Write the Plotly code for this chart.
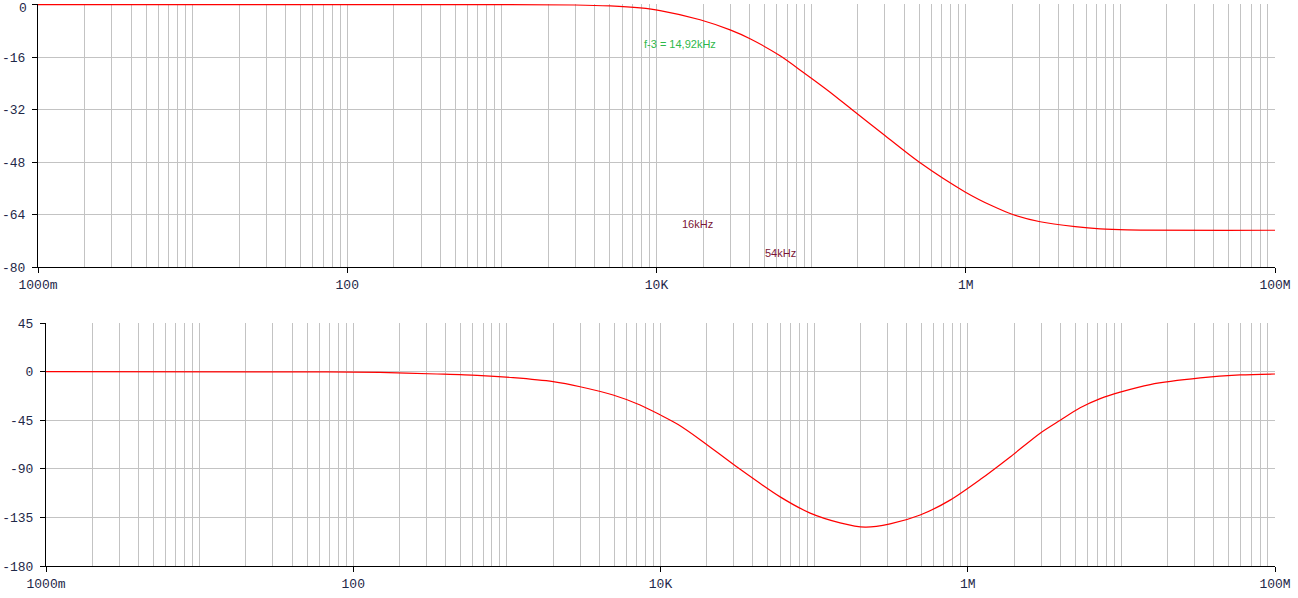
import plotly.graph_objects as go

# ---- data ----
mag_freq = [1, 1000, 2970, 5010, 7830, 10550, 19140, 29920, 40270, 63000, 88740,
            132700, 183400, 301500, 499000, 990000, 1503000, 2015000, 3030000,
            5100000, 7400000, 11070000, 100000000]
mag_db = [0, 0, -0.1, -0.4, -1.0, -1.8, -4.6, -7.7, -10.4, -15.6, -20.6,
          -26.7, -32.0, -40.0, -48.0, -57.1, -61.5, -64.0, -66.2,
          -67.7, -68.4, -68.7, -68.8]

phase_freq = [1, 50, 149, 351, 640, 1097, 2000, 2997, 4916, 7365, 9930, 13020,
              18120, 33000, 60100, 94200, 147600, 214700, 312400, 490000, 767700,
              1204000, 1888000, 2960000, 4000000, 5390000, 7280000, 9820000,
              15400000, 32600000, 59300000, 100000000]
phase_deg = [0, -0.2, -0.7, -2.2, -3.5, -5.6, -9.3, -14, -21.7, -30.9, -40, -49,
             -63, -90.5, -116, -131, -140, -144, -141, -132.8, -119,
             -100, -79, -57, -45, -33.5, -25, -19,
             -12, -5.9, -3.1, -2.2]

x_tick_vals = [1, 100, 1e4, 1e6, 1e8]
x_tick_text = ["1000m", "100", "10K", "1M", "100M"]
mag_ticks = [0, -16, -32, -48, -64, -80]
phase_ticks = [45, 0, -45, -90, -135, -180]

# gridlines at every 1..9 x 10^k
minor_vals = [m * 10 ** k for k in range(0, 8) for m in range(1, 10)] + [1e8]

W, H = 1298, 598
LINE = "#ff0000"
GRID = "#c3c3c3"
TICKFONT = dict(family="Liberation Mono, Courier New, monospace", size=13, color="#1e2848")

top_x = [38 / W, 1275 / W]
bot_x = [46 / W, 1275 / W]
top_y = [1 - 267 / H, 1 - 4 / H]
bot_y = [1 - 566 / H, 1 - 323 / H]

fig = go.Figure()
fig.add_trace(go.Scatter(x=mag_freq, y=mag_db, mode="lines",
                         line=dict(color=LINE, width=1.2, shape="spline", smoothing=0.8),
                         xaxis="x", yaxis="y", showlegend=False, hoverinfo="skip"))
fig.add_trace(go.Scatter(x=phase_freq, y=phase_deg, mode="lines",
                         line=dict(color=LINE, width=1.2, shape="spline", smoothing=0.8),
                         xaxis="x2", yaxis="y2", showlegend=False, hoverinfo="skip"))

x_axis = dict(type="log", range=[0, 8], tickmode="array",
              tickvals=x_tick_vals, ticktext=x_tick_text,
              ticks="outside", ticklen=5, tickcolor="black", tickwidth=1,
              showgrid=True, gridcolor=GRID, gridwidth=1,
              minor=dict(tickmode="array", tickvals=minor_vals, showgrid=True,
                         gridcolor=GRID, gridwidth=1, ticks=""),
              showline=True, linecolor="black", linewidth=1, automargin=False,
              ticklabeloverflow="allow", tickfont=TICKFONT, zeroline=False)
y_common = dict(ticks="outside", ticklen=5, tickcolor="black", showgrid=True,
                gridcolor=GRID, showline=True, linecolor="black", linewidth=1,
                zeroline=False, tickfont=TICKFONT, automargin=False,
                ticklabeloverflow="allow", ticklabelstandoff=4)

# top label "0" of the magnitude axis is drawn as an annotation so it stays inside the page
mag_text = ["" if v == 0 else str(v) for v in mag_ticks]

fig.update_layout(
    template="none",
    width=W, height=H,
    margin=dict(l=0, r=0, t=0, b=0, pad=0),
    paper_bgcolor="white", plot_bgcolor="white",
    xaxis=dict(x_axis, domain=top_x, anchor="y"),
    xaxis2=dict(x_axis, domain=bot_x, anchor="y2"),
    yaxis=dict(y_common, domain=top_y, anchor="x", range=[-80, 0.2], tickvals=mag_ticks,
               ticktext=mag_text),
    yaxis2=dict(y_common, domain=bot_y, anchor="x2", range=[-180, 45], tickvals=phase_ticks,
                ticktext=[str(v) for v in phase_ticks]),
    annotations=[
        dict(text=str(mag_ticks[0]), x=28 / W, y=1.0, xref="paper", yref="paper",
             xanchor="right", yanchor="top", showarrow=False, font=TICKFONT,
             borderpad=0),
        dict(text="f-3 = 14,92kHz", x=4.153, y=-11.9, xref="x", yref="y", showarrow=False,
             font=dict(family="Liberation Sans, Arial, sans-serif", size=11, color="#2eb84a")),
        dict(text="16kHz", x=4.263, y=-66.9, xref="x", yref="y", showarrow=False,
             font=dict(family="Liberation Sans, Arial, sans-serif", size=11, color="#7a1535")),
        dict(text="54kHz", x=4.800, y=-75.7, xref="x", yref="y", showarrow=False,
             font=dict(family="Liberation Sans, Arial, sans-serif", size=11, color="#7a1535")),
    ],
)

fig.write_html("out.html", config={"displayModeBar": False},
               post_script="document.body.style.margin='0px';document.body.style.overflow='hidden';")
